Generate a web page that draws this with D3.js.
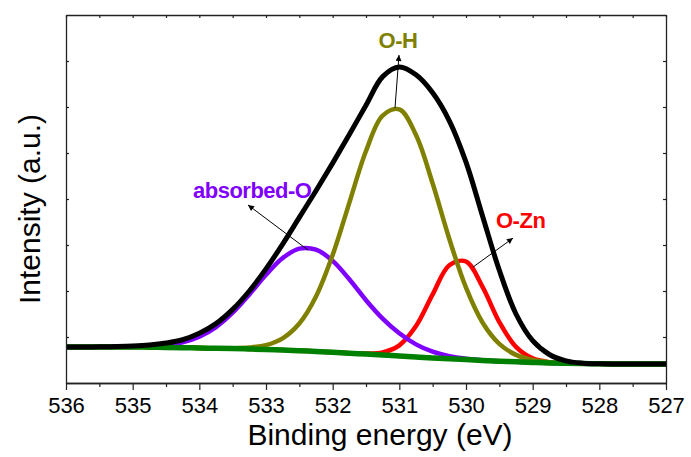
<!DOCTYPE html>
<html>
<head>
<meta charset="utf-8">
<script src="https://cdn.jsdelivr.net/npm/d3@7"></script>
<style>
  html, body { margin: 0; padding: 0; background: #fff; }
  svg text { font-family: "Liberation Sans", Arial, sans-serif; }
</style>
</head>
<body>
<svg id="chart"></svg>
<script>
// binding energy grid (eV), 0.25 eV steps
const energy = d3.range(37).map(i => 536 - i * 0.25)

// arbitrary intensity units
const background = [0.783, 0.783, 0.783, 0.783, 0.783, 0.778, 0.772, 0.767, 0.761, 0.754, 0.748, 0.739, 0.728, 0.717, 0.702, 0.685, 0.667, 0.648, 0.630, 0.609, 0.587, 0.565, 0.543, 0.526, 0.509, 0.491, 0.474, 0.461, 0.448, 0.437, 0.428, 0.422, 0.417, 0.413, 0.413, 0.413, 0.413]
const peakOH = [0.783, 0.783, 0.783, 0.783, 0.783, 0.778, 0.772, 0.767, 0.761, 0.756, 0.757, 0.771, 0.824, 0.972, 1.293, 1.881, 2.783, 3.917, 5.043, 5.814, 5.948, 5.390, 4.336, 3.131, 2.072, 1.310, 0.849, 0.611, 0.500, 0.453, 0.432, 0.422, 0.417, 0.413, 0.413, 0.413, 0.413]
const peakAbsorbed = [0.783, 0.783, 0.784, 0.785, 0.790, 0.798, 0.823, 0.885, 1.007, 1.215, 1.527, 1.925, 2.352, 2.717, 2.920, 2.898, 2.655, 2.255, 1.800, 1.400, 1.080, 0.840, 0.680, 0.585, 0.530, 0.495, 0.474, 0.461, 0.448, 0.437, 0.428, 0.422, 0.417, 0.413, 0.413, 0.413, 0.413]
const peakZn = [0.783, 0.783, 0.783, 0.783, 0.783, 0.778, 0.772, 0.767, 0.761, 0.754, 0.748, 0.739, 0.728, 0.717, 0.702, 0.685, 0.667, 0.649, 0.640, 0.666, 0.819, 1.237, 1.927, 2.560, 2.642, 2.086, 1.325, 0.785, 0.536, 0.454, 0.430, 0.422, 0.417, 0.413, 0.413, 0.413, 0.413]
const envelope = [0.783, 0.783, 0.787, 0.793, 0.804, 0.826, 0.868, 0.940, 1.080, 1.290, 1.600, 2.000, 2.480, 3.020, 3.600, 4.180, 4.780, 5.400, 6.040, 6.660, 6.870, 6.700, 6.310, 5.700, 4.800, 3.620, 2.450, 1.500, 0.920, 0.620, 0.480, 0.430, 0.416, 0.413, 0.413, 0.413, 0.413]

const majorTicks = [536, 535, 534, 533, 532, 531, 530, 529, 528, 527]
const minorTicks = [535.5, 534.5, 533.5, 532.5, 531.5, 530.5, 529.5, 528.5, 527.5]
const yTicks = [1, 2, 3, 4, 5, 6, 7]

const annotations = [
  { text: 'O-H', color: '#808000', at: [531.02, 7.28], anchor: 'middle', from: [531.065, 5.98], to: [531.005, 7.13] },
  { text: 'absorbed-O', color: '#7f00ff', at: [534.095, 4.02], anchor: 'start', from: [532.37, 2.89], to: [533.27, 3.87] },
  { text: 'O-Zn', color: '#ff0000', at: [529.55, 3.37], anchor: 'start', from: [529.895, 2.52], to: [529.295, 3.15] }
]

const width = 691
const height = 457
const margin = { top: 15, right: 25, bottom: 74, left: 66 }

const svg = d3.select('#chart')
  .attr('width', width)
  .attr('height', height)

const x = d3.scaleLinear()
  .domain([536, 527])
  .range([margin.left, width - margin.right])

const y = d3.scaleLinear()
  .domain([0, 8])
  .range([height - margin.bottom, margin.top])

const series = [
  { values: peakZn, color: '#ff0000', w: 4.5 },
  { values: peakAbsorbed, color: '#7f00ff', w: 4.5 },
  { values: peakOH, color: '#808000', w: 4.5 },
  { values: background, color: '#008000', w: 5.5 },
  { values: envelope, color: '#000000', w: 5 }
]

const line = d3.line()
  .x(d => x(d[0]))
  .y(d => y(d[1]))
  .curve(d3.curveCatmullRom.alpha(0.5))

svg.append('g')
  .selectAll('path')
  .data(series)
  .enter()
  .append('path')
  .attr('d', s => line(energy.map((e, i) => [e, s.values[i]])))
  .attr('fill', 'none')
  .attr('stroke', s => s.color)
  .attr('stroke-width', s => s.w)
  .attr('stroke-linejoin', 'round')

// axes
const axisColor = '#222'
const styleAxis = g => {
  g.select('.domain').attr('stroke', axisColor).attr('stroke-width', 1.3)
  g.selectAll('.tick line').attr('stroke', axisColor).attr('stroke-width', 1.2)
}

svg.append('g')
  .attr('transform', `translate(0,${y(0)})`)
  .call(d3.axisBottom(x).tickValues(majorTicks).tickSize(7).tickSizeOuter(0).tickFormat(d3.format('d')))
  .call(styleAxis)
  .call(g => g.selectAll('.tick text')
    .attr('fill', '#000')
    .attr('font-size', 22)
    .attr('dy', 0)
    .attr('y', 30))

svg.append('g')
  .attr('transform', `translate(0,${y(0)})`)
  .call(d3.axisBottom(x).tickValues(minorTicks).tickSize(4).tickSizeOuter(0).tickFormat(''))
  .call(styleAxis)

svg.append('g')
  .attr('transform', `translate(0,${y(8)})`)
  .call(d3.axisTop(x).tickValues(majorTicks.concat(minorTicks)).tickSize(-3).tickSizeOuter(0).tickFormat(''))
  .call(styleAxis)

svg.append('g')
  .attr('transform', `translate(${x(536)},0)`)
  .call(d3.axisLeft(y).tickValues(yTicks).tickSize(-3).tickSizeOuter(0).tickFormat(''))
  .call(styleAxis)

svg.append('g')
  .attr('transform', `translate(${x(527)},0)`)
  .call(d3.axisRight(y).tickValues(yTicks).tickSize(-3).tickSizeOuter(0).tickFormat(''))
  .call(styleAxis)

// axis titles
svg.append('text')
  .attr('x', 380)
  .attr('y', 445)
  .attr('text-anchor', 'middle')
  .attr('font-size', 30)
  .attr('fill', '#000')
  .text('Binding energy (eV)')

svg.append('text')
  .attr('transform', 'translate(40,209) rotate(-90)')
  .attr('text-anchor', 'middle')
  .attr('font-size', 30)
  .attr('fill', '#000')
  .text('Intensity (a.u.)')

// peak labels and arrows
svg.append('defs')
  .append('marker')
  .attr('id', 'head')
  .attr('viewBox', '0 0 10 10')
  .attr('refX', 10)
  .attr('refY', 5)
  .attr('markerWidth', 9)
  .attr('markerHeight', 6)
  .attr('markerUnits', 'userSpaceOnUse')
  .attr('orient', 'auto')
  .append('path')
  .attr('d', 'M0,0L10,5L0,10Z')
  .attr('fill', '#000')

const notes = svg.append('g')

notes.selectAll('line')
  .data(annotations)
  .enter()
  .append('line')
  .attr('x1', d => x(d.from[0]))
  .attr('y1', d => y(d.from[1]))
  .attr('x2', d => x(d.to[0]))
  .attr('y2', d => y(d.to[1]))
  .attr('stroke', '#000')
  .attr('stroke-width', 1)
  .attr('marker-end', 'url(#head)')

notes.selectAll('text')
  .data(annotations)
  .enter()
  .append('text')
  .attr('x', d => x(d.at[0]))
  .attr('y', d => y(d.at[1]))
  .attr('text-anchor', d => d.anchor)
  .attr('font-size', 22)
  .attr('font-weight', 'bold')
  .attr('letter-spacing', -0.5)
  .attr('fill', d => d.color)
  .text(d => d.text)
</script>
</body>
</html>
